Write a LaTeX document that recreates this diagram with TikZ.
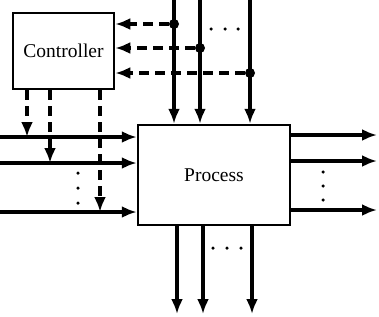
\documentclass[tikz,border=0pt]{standalone}
\usepackage{fontspec}
\setmainfont{Liberation Serif}
\usetikzlibrary{arrows.meta,calc}
\tikzset{blk/.style={draw,line width=2.5pt,align=center,font=\fontsize{19.5}{22}\selectfont,inner sep=0pt},sig/.style={-{Latex[length=15pt,width=12pt]},line width=3.6pt},ctl/.style={sig,dash pattern=on 10pt off 6pt},jn/.style={circle,fill,inner sep=0pt,minimum size=10pt},dot/.style={circle,fill,inner sep=0pt,minimum size=3.5pt}}

\begin{document}
\begin{tikzpicture}[x=1pt,y=-1pt]
\useasboundingbox (0,0) rectangle (379,316);
\node[blk,minimum width=101pt,minimum height=76pt] (ctrl) at (63.5,51) {Controller};
\node[blk,minimum width=152pt,minimum height=100pt] (proc) at (214,175) {Process};
% inputs from the top, sensed by the controller
\coordinate (t1) at (174,0);\coordinate (t2) at (200,0);\coordinate (t3) at (250,0);
\node[jn] (j1) at (174,24) {};\node[jn] (j2) at (200,48) {};\node[jn] (j3) at (250,73) {};
\draw[sig] (t1)--(t1|-proc.north);\draw[sig] (t2)--(t2|-proc.north);\draw[sig] (t3)--(t3|-proc.north);
\draw[ctl] (j1)--(j1-|ctrl.east);\draw[ctl] (j2)--(j2-|ctrl.east);\draw[ctl] (j3)--(j3-|ctrl.east);
% manipulated inputs from the left
\coordinate (i1) at (0,137);\coordinate (i2) at (0,163);\coordinate (i3) at (0,212);
\draw[sig] (i1)--(i1-|proc.west);\draw[sig] (i2)--(i2-|proc.west);\draw[sig] (i3)--(i3-|proc.west);
\coordinate (c1) at (27,137);\coordinate (c2) at (50,163);\coordinate (c3) at (100,212);
\draw[ctl] (ctrl.south-|c1)--(c1);\draw[ctl] (ctrl.south-|c2)--(c2);\draw[ctl] (ctrl.south-|c3)--(c3);
% outputs
\coordinate (o1) at (377,135);\coordinate (o2) at (377,161);\coordinate (o3) at (377,210);
\draw[sig] (o1-|proc.east)--(o1);\draw[sig] (o2-|proc.east)--(o2);\draw[sig] (o3-|proc.east)--(o3);
\coordinate (b1) at (177,314);\coordinate (b2) at (203,314);\coordinate (b3) at (252,314);
\draw[sig] (b1|-proc.south)--(b1);\draw[sig] (b2|-proc.south)--(b2);\draw[sig] (b3|-proc.south)--(b3);
% ellipses
\node[dot] (dt1) at (211,29) {};\node[dot] (dt2) at (225,29) {};\node[dot] (dt3) at (238,29) {};
\node[dot] (dl1) at (78,173) {};\node[dot] (dl2) at (78,188) {};\node[dot] (dl3) at (78,203) {};
\node[dot] (dr1) at (323,172) {};\node[dot] (dr2) at (323,186) {};\node[dot] (dr3) at (323,200) {};
\node[dot] (db1) at (213,248) {};\node[dot] (db2) at (227,248) {};\node[dot] (db3) at (241,248) {};
\end{tikzpicture}
\end{document}
